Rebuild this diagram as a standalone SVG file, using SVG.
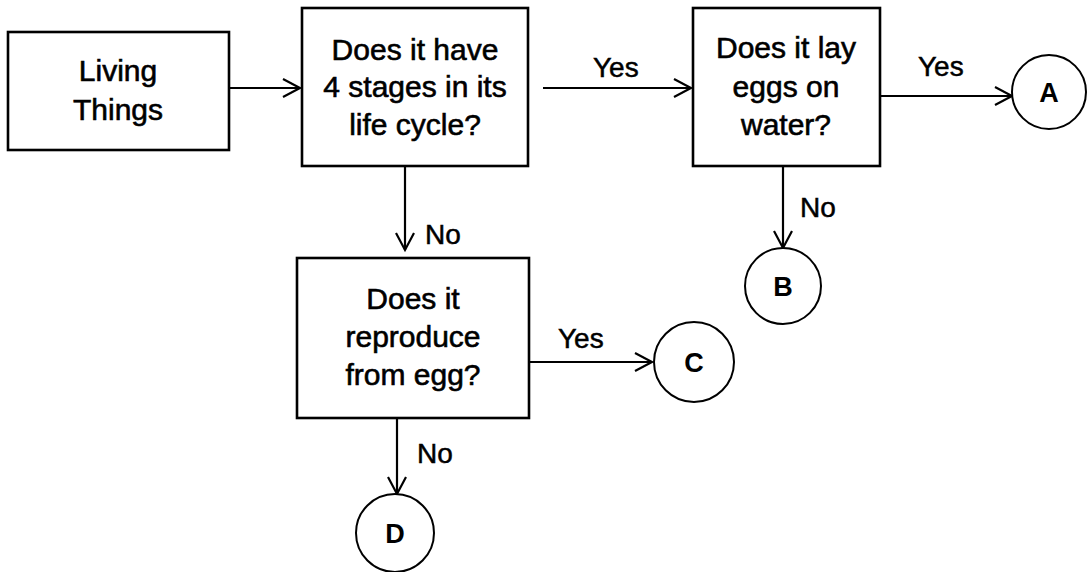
<svg xmlns="http://www.w3.org/2000/svg" width="1088" height="572" viewBox="0 0 1088 572">
<defs>
<marker id="arr" markerUnits="userSpaceOnUse" markerWidth="22" markerHeight="22" viewBox="0 0 22 22" refX="19" refY="11" orient="auto">
<path d="M2,2 L19,11 L2,20" fill="none" stroke="#000" stroke-width="2.2"/>
</marker>
<style>
.box{fill:#fff;stroke:#000;stroke-width:2.6}
.circ{fill:#fff;stroke:#000;stroke-width:2}
.t{font-family:"Liberation Sans",Arial,sans-serif;font-size:30px;fill:#000;stroke:#000;stroke-width:0.6;text-anchor:middle}
.lbl{font-family:"Liberation Sans",Arial,sans-serif;font-size:28px;fill:#000;stroke:#000;stroke-width:0.5}
.ct{font-family:"Liberation Sans",Arial,sans-serif;font-size:27px;font-weight:bold;fill:#000;text-anchor:middle}
.ln{fill:none;stroke:#000;stroke-width:2.2;marker-end:url(#arr)}
</style>
</defs>
<rect width="1088" height="572" fill="#fff"/>
<g id="connectors">
<line class="ln" x1="230" y1="88" x2="300" y2="88"/>
<line class="ln" x1="543" y1="88" x2="691" y2="88"/>
<line class="ln" x1="881" y1="96" x2="1012" y2="96"/>
<line class="ln" x1="405" y1="167" x2="405" y2="250"/>
<line class="ln" x1="783" y1="167" x2="783" y2="248"/>
<line class="ln" x1="530" y1="362" x2="652" y2="362"/>
<line class="ln" x1="397" y1="418" x2="397" y2="494"/>
<text class="lbl" x="593" y="77">Yes</text>
<text class="lbl" x="918" y="76">Yes</text>
<text class="lbl" x="425" y="244">No</text>
<text class="lbl" x="800" y="217">No</text>
<text class="lbl" x="558" y="348">Yes</text>
<text class="lbl" x="417" y="463">No</text>
</g>
<g id="living">
<rect class="box" x="8" y="32" width="221" height="118"/>
<text class="t" x="118" y="81">Living</text>
<text class="t" x="118" y="120">Things</text>
</g>
<g id="q1">
<rect class="box" x="302" y="8" width="226" height="158"/>
<text class="t" x="415" y="60">Does it have</text>
<text class="t" x="415" y="97">4 stages in its</text>
<text class="t" x="415" y="135">life cycle?</text>
</g>
<g id="q2">
<rect class="box" x="693" y="8" width="187" height="158"/>
<text class="t" x="786" y="58">Does it lay</text>
<text class="t" x="786" y="97">eggs on</text>
<text class="t" x="786" y="135">water?</text>
</g>
<g id="q3">
<rect class="box" x="297" y="258" width="232" height="160"/>
<text class="t" x="413" y="309">Does it</text>
<text class="t" x="413" y="347">reproduce</text>
<text class="t" x="413" y="385">from egg?</text>
</g>
<g id="A">
<circle class="circ" cx="1049" cy="92" r="37"/>
<text class="ct" x="1049" y="102">A</text>
</g>
<g id="B">
<circle class="circ" cx="783" cy="286" r="38"/>
<text class="ct" x="783" y="296">B</text>
</g>
<g id="C">
<circle class="circ" cx="694" cy="362" r="40"/>
<text class="ct" x="694" y="372">C</text>
</g>
<g id="D">
<circle class="circ" cx="395" cy="533" r="39"/>
<text class="ct" x="395" y="543">D</text>
</g>
</svg>
